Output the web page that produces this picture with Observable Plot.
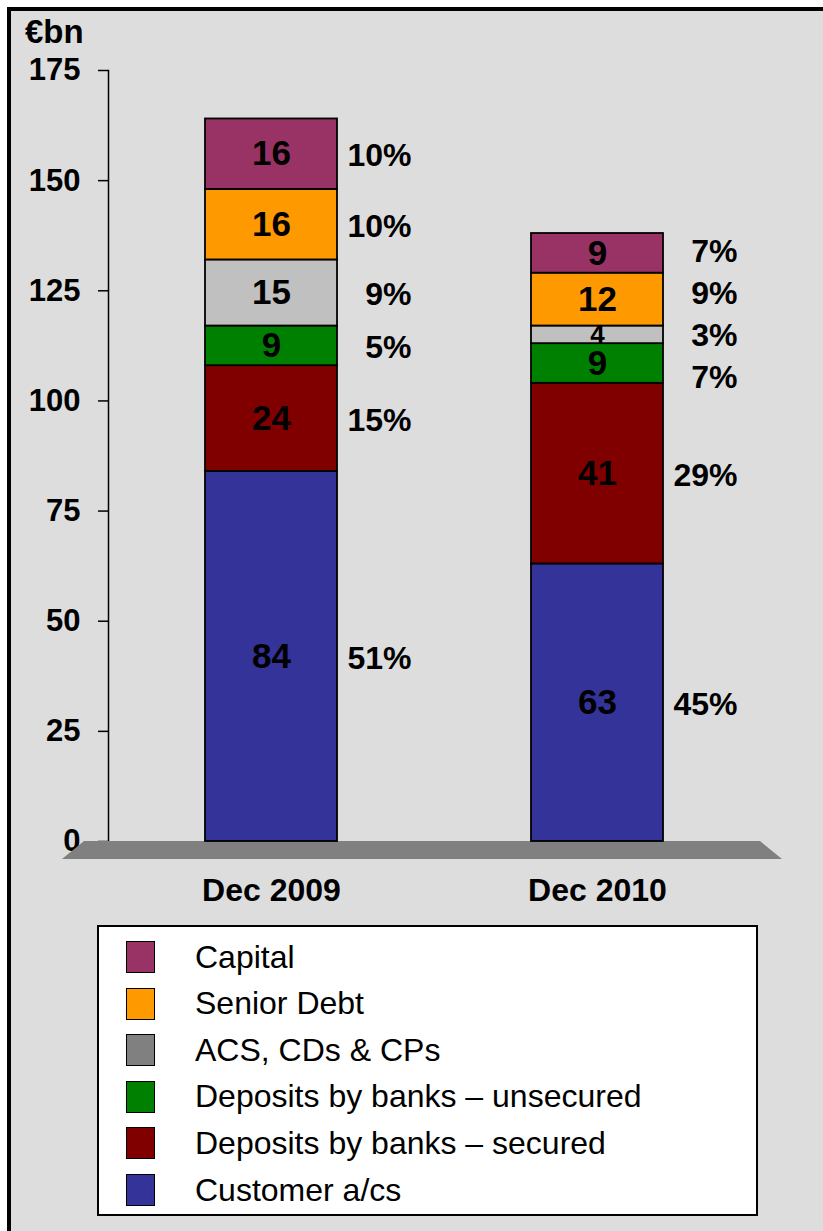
<!DOCTYPE html>
<html><head><meta charset="utf-8">
<script src="https://cdn.jsdelivr.net/npm/d3@7"></script>
<script src="https://cdn.jsdelivr.net/npm/@observablehq/plot@0.6"></script>
<style>
html,body{margin:0;padding:0;background:#fff;}
body{width:823px;height:1231px;overflow:hidden;position:relative;font-family:"Liberation Sans",Arial,sans-serif;color:#000;}
#frame{position:absolute;left:7px;top:7px;width:900px;height:1300px;background:#DDDDDD;border-top:4px solid #000;border-left:4px solid #000;}
#chart{position:absolute;left:0;top:0;}
#unit{position:absolute;left:25px;top:15px;font-size:33px;font-weight:bold;line-height:33px;}
#legend{position:absolute;left:97px;top:925px;width:657px;height:287px;background:#fff;border:2px solid #000;}
.row{position:absolute;left:0;height:32px;display:flex;align-items:center;}
.sw{box-sizing:border-box;width:29px;height:32px;border:1.5px solid #000;margin-left:27px;}
.lab{margin-left:40px;font-size:32px;white-space:nowrap;}
</style>
</head><body>
<div id="frame"></div>
<div id="chart"></div>
<div id="unit">€bn</div>
<div id="legend"></div>
<script>
const categories = ["Dec 2009", "Dec 2010"];
const series = ["Customer a/cs", "Deposits by banks – secured", "Deposits by banks – unsecured", "ACS, CDs & CPs", "Senior Debt", "Capital"];
const values2009 = [84, 24, 9, 15, 16, 16];
const values2010 = [63, 41, 9, 4, 12, 9];
const shares2009 = ["51%", "15%", "5%", "9%", "10%", "10%"];
const shares2010 = ["45%", "29%", "7%", "3%", "9%", "7%"];
const barColors = ["#333399", "#800000", "#008000", "#C0C0C0", "#FF9900", "#993366"];
const legendColors = ["#333399", "#800000", "#008000", "#808080", "#FF9900", "#993366"];
const yTicks = [0, 25, 50, 75, 100, 125, 150, 175];

const valuesBy = [values2009, values2010];
const sharesBy = [shares2009, shares2010];

const rows = categories.flatMap((c, ci) => series.map((s, si) => ({
  category: c, series: s, value: valuesBy[ci][si], share: sharesBy[ci][si]
})));

// percentage labels: segment midpoints, nudged apart when too close
const minGap = 9.5;
const shareLabels = categories.flatMap((c, ci) => {
  let acc = 0;
  const items = series.map((s, si) => {
    const v = valuesBy[ci][si];
    const mid = acc + v / 2;
    acc += v;
    return {category: c, share: sharesBy[ci][si], pos: mid};
  });
  for (let it = 0; it < 200; it++) {
    for (let i = 0; i < items.length - 1; i++) {
      const gap = items[i + 1].pos - items[i].pos;
      if (gap < minGap) {
        const d = (minGap - gap) / 2;
        items[i].pos -= d;
        items[i + 1].pos += d;
      }
    }
  }
  return items;
});

const floor = (index, scales, values, dimensions) => {
  const {width, marginLeft, marginRight} = dimensions;
  const y0 = scales.y(0);
  const xa = marginLeft - 24, xb = width - marginRight;
  const depth = 18, spread = 22;
  const p = d3.create("svg:path")
    .attr("d", `M${xa},${y0}L${xb},${y0}L${xb + spread},${y0 + depth}L${xa - spread},${y0 + depth}Z`)
    .attr("fill", "#808080");
  return p.node();
};

const chart = Plot.plot({
  width: 823,
  height: 915,
  marginTop: 70,
  marginBottom: 74,
  marginLeft: 108,
  marginRight: 63,
  style: {background: "transparent", color: "#000", fontFamily: "'Liberation Sans', Arial, sans-serif", fontWeight: "bold", overflow: "visible"},
  x: {domain: categories, paddingInner: 0.595, paddingOuter: 0.2975, align: 0.5, label: null},
  y: {domain: [0, 175], label: null},
  color: {domain: series, range: barColors},
  marks: [
    Plot.axisY({ticks: yTicks, tickSize: 10, tickPadding: 18, fontSize: 31, fontWeight: "bold", label: null, tickFormat: d => String(d), strokeWidth: 1.5}),
    Plot.frame({anchor: "left", strokeWidth: 1.5}),
    Plot.axisX({tickSize: 0, tickPadding: 37, fontSize: 32, fontWeight: "bold", label: null}),
    floor,
    Plot.barY(rows, {x: "category", y: "value", fill: "series", order: series, stroke: "#000", strokeWidth: 1.8}),
    Plot.text(rows, Plot.stackY({x: "category", y: "value", z: "series", order: series, text: d => String(d.value), fontSize: d => d.value < 6 ? 26 : 35, fontWeight: "bold", fill: "#000"})),
    Plot.text(shareLabels, {x: "category", y: "pos", text: "share", dx: 140, dy: 2, textAnchor: "end", fontSize: 32, fontWeight: "bold", fill: "#000"})
  ]
});
document.getElementById("chart").appendChild(chart);

const legend = document.getElementById("legend");
const order = series.map((s, i) => i).reverse();
order.forEach((si, k) => {
  const row = document.createElement("div");
  row.className = "row";
  row.style.top = (30 + k * 46.6 - 16) + "px";
  const sw = document.createElement("div");
  sw.className = "sw";
  sw.style.background = legendColors[si];
  const lab = document.createElement("div");
  lab.className = "lab";
  lab.textContent = series[si];
  row.appendChild(sw);
  row.appendChild(lab);
  legend.appendChild(row);
});
</script>
</body></html>
